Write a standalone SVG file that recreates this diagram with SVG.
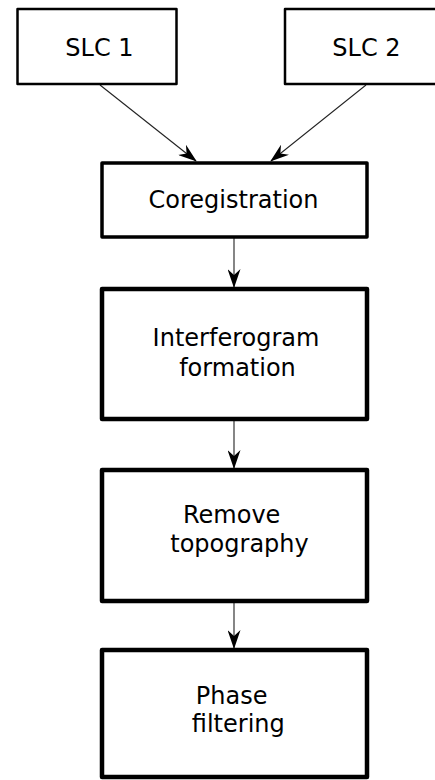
<svg xmlns="http://www.w3.org/2000/svg" width="435" height="780" viewBox="0 0 435 780">
<style>
.box{fill:#fff;stroke:#000;stroke-linejoin:round}
.t{font-family:"DejaVu Sans",Verdana,sans-serif;font-size:24px;fill:#000;text-anchor:middle}
.c{stroke:#222;stroke-width:1.1;fill:none}
</style>
<defs>
<marker id="ah" viewBox="0 0 19 13" refX="18" refY="6.5" markerWidth="19" markerHeight="13" markerUnits="userSpaceOnUse" orient="auto">
<path d="M0,0 L19,6.5 L0,13 L6,6.5 Z" fill="#000"/>
</marker>
</defs>
<rect width="435" height="780" fill="#fff"/>
<g id="connectors">
<line class="c" x1="100" y1="85" x2="196" y2="161" marker-end="url(#ah)"/>
<line class="c" x1="366" y1="85" x2="271" y2="161" marker-end="url(#ah)"/>
<line class="c" x1="234" y1="238" x2="234" y2="287" marker-end="url(#ah)"/>
<line class="c" x1="234" y1="421" x2="234" y2="468" marker-end="url(#ah)"/>
<line class="c" x1="234" y1="603" x2="234" y2="648" marker-end="url(#ah)"/>
</g>
<g id="slc1">
<rect class="box" x="17.5" y="9" width="159" height="75" stroke-width="2.5"/>
<text class="t" x="99.5" y="56">SLC 1</text>
</g>
<g id="slc2">
<rect class="box" x="285" y="9" width="160" height="75" stroke-width="2.5"/>
<text class="t" x="366.5" y="56">SLC 2</text>
</g>
<g id="coregistration">
<rect class="box" x="102" y="163" width="265" height="74" stroke-width="3.5"/>
<text class="t" x="233.5" y="208">Coregistration</text>
</g>
<g id="interferogram">
<rect class="box" x="102" y="289" width="265" height="130" stroke-width="4.5"/>
<text class="t" x="236" y="346">Interferogram</text>
<text class="t" x="237.5" y="376">formation</text>
</g>
<g id="remove-topography">
<rect class="box" x="102" y="470" width="265" height="131" stroke-width="4.5"/>
<text class="t" x="231.7" y="523">Remove</text>
<text class="t" x="239.5" y="552">topography</text>
</g>
<g id="phase-filtering">
<rect class="box" x="102" y="650" width="265" height="127" stroke-width="4.5"/>
<text class="t" x="231.7" y="704">Phase</text>
<text class="t" x="238.3" y="732">filtering</text>
</g>
</svg>
